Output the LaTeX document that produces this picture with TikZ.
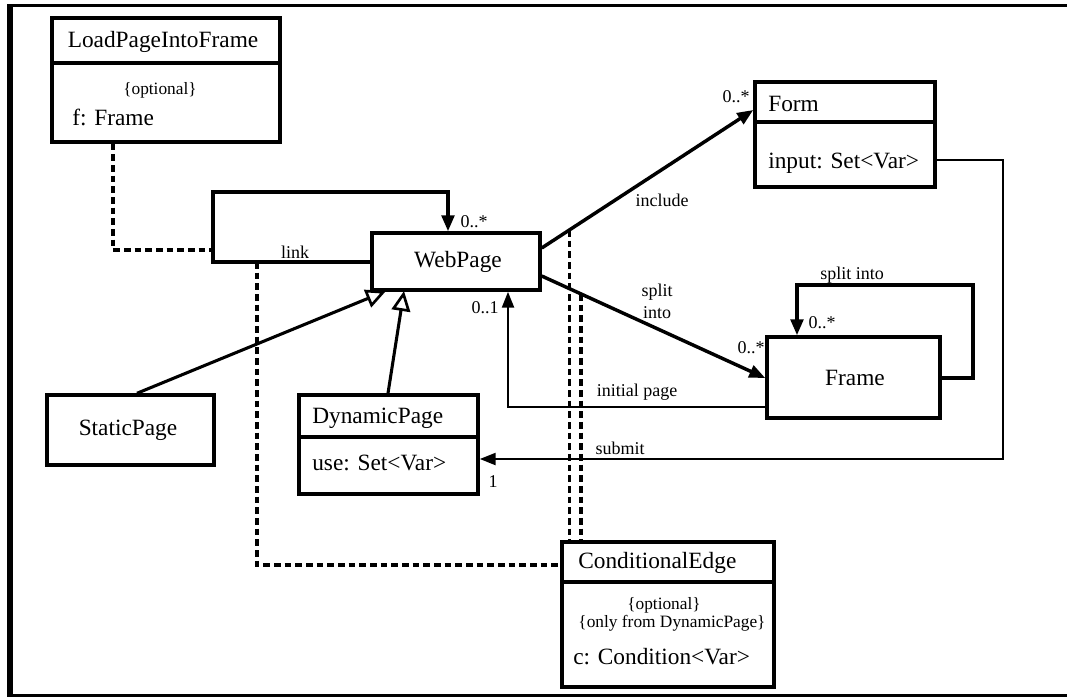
\documentclass[tikz,border=0pt]{standalone}
\usepackage{fontspec}
\setmainfont{Liberation Serif}
\usetikzlibrary{arrows.meta,fit,calc}

\begin{document}
\begin{tikzpicture}[x=0.75pt,y=-0.75pt,
  box/.style={draw, line width=2.6pt, inner sep=0pt, fit={#1}},
  divider/.style={line width=2.6pt},
  title/.style={font=\fontsize{17.5}{20}\selectfont, inner sep=0pt},
  attr/.style={font=\fontsize{17.5}{20}\selectfont, inner sep=0pt, anchor=west},
  note/.style={font=\fontsize{13}{15}\selectfont, inner sep=0pt},
  lbl/.style={font=\fontsize{13.5}{16}\selectfont, inner sep=0pt},
  assoc/.style={line width=2.6pt, -{Triangle[length=12pt,width=9.5pt]}},
  thinassoc/.style={line width=1.8pt, -{Triangle[length=12pt,width=9pt]}},
  gen/.style={line width=2.3pt, -{Triangle[open,length=15pt,width=14pt,line width=2pt]}},
  attach/.style={line width=2.5pt, dash pattern=on 5pt off 3pt},
]
\useasboundingbox (0,0) rectangle (1067,697);

% window frame
\draw[line width=2.8pt] (1067,5.5) -- (10,5.5);
\draw[line width=3.8pt] (10,4) -- (10,697);
\draw[line width=2.4pt] (10,695.5) -- (1067,695.5);

% classes
\node[box={(52,18) (280,142)}] (lp) {};
\draw[divider] (lp.west |- 0,63) -- (lp.east |- 0,63);
\node[title] (lpT) at (163,42) {LoadPageIntoFrame};
\node[note] (lpO) at (160,90) {\{optional\}};
\node[attr] (lpA) at (72,117) {f: Frame};

\node[box={(372,233) (540,290)}] (wp) {};
\node[title] (wpT) at (458,262) {WebPage};

\node[box={(755,82) (935,187)}] (fm) {};
\draw[divider] (fm.west |- 0,122) -- (fm.east |- 0,122);
\node[attr] (fmT) at (768,104) {Form};
\node[attr] (fmA) at (768,163) {input: Set<Var>};

\node[box={(767,337) (940,418)}] (fr) {};
\node[title] (frT) at (855,378) {Frame};

\node[box={(47,395) (214,465)}] (sp) {};
\node[title] (spT) at (128,430) {StaticPage};

\node[box={(299,395) (478,494)}] (dp) {};
\draw[divider] (dp.west |- 0,437) -- (dp.east |- 0,437);
\node[attr] (dpT) at (312,418) {DynamicPage};
\node[attr] (dpA) at (312,463) {use: Set<Var>};

\node[box={(562,542) (774,687)}] (ce) {};
\draw[line width=3.2pt] (ce.west |- 0,582) -- (ce.east |- 0,582);
\node[attr] (ceT) at (578,563) {ConditionalEdge};
\node[note] (ceO) at (664,605) {\{optional\}};
\node[note] (ceD) at (672,623) {\{only from DynamicPage\}};
\node[attr] (ceA) at (573,657) {c: Condition<Var>};

% link: self association of WebPage
\coordinate (lk1) at (213,262);
\coordinate (lk2) at (213,192);
\coordinate (lk3) at (448,192);
\draw[assoc] (wp.west |- lk1) -- (lk1) -- (lk2) -- (lk3) -- (lk3 |- wp.north);
\node[lbl] (lkL) at (295,252) {link};
\node[lbl] (lkM) at (474,222) {0..*};

% include
\draw[assoc] (wp.east |- 0,248) -- coordinate[pos=0.13] (incA) (fm.west |- 0,110);
\node[lbl] (inL) at (662,200) {include};
\node[lbl] (inM) at (736,97) {0..*};

% split into
\draw[assoc] (wp.east |- 0,276) -- coordinate[pos=0.176] (splA) (fr.west |- 0,378);
\node[lbl] (spL1) at (657,292) {split};
\node[lbl] (spL2) at (657,313) {into};
\node[lbl] (spM) at (751,348) {0..*};

% frame self association
\coordinate (fs1) at (973,378);
\coordinate (fs2) at (973,285);
\coordinate (fs3) at (797,285);
\draw[assoc] (fr.east |- fs1) -- (fs1) -- (fs2) -- (fs3) -- (fs3 |- fr.north);
\node[lbl] (fsL) at (852,275) {split into};
\node[lbl] (fsM) at (822,323) {0..*};

% initial page
\coordinate (ip) at (508,407);
\draw[thinassoc] (fr.west |- ip) -- (ip) -- (ip |- wp.south);
\node[lbl] (ipL) at (637,392) {initial page};
\node[lbl] (ipM) at (485,308) {0..1};

% submit
\coordinate (sb1) at (1003,160);
\coordinate (sb2) at (1003,459);
\draw[thinassoc] (fm.east |- sb1) -- (sb1) -- (sb2) -- (dp.east |- sb2);
\node[lbl] (sbL) at (620,448) {submit};
\node[lbl] (sbM) at (493,482) {1};

% generalisations
\draw[gen] (sp.north -| 137,0) -- (386,291);
\draw[gen] (dp.north -| 388,0) -- (404,291);

% association class attachments
\coordinate (lpC) at (113,250);
\draw[attach] (lp.south -| lpC) -- (lpC) -- (lk1 |- lpC);
\coordinate (ceC) at (257,565);
\draw[attach] (ceC |- lk1) -- (ceC) -- (ce.west |- ceC);
\draw[attach] (incA) -- (incA |- ce.north);
\draw[attach] (splA) -- (splA |- ce.north);
\end{tikzpicture}
\end{document}
